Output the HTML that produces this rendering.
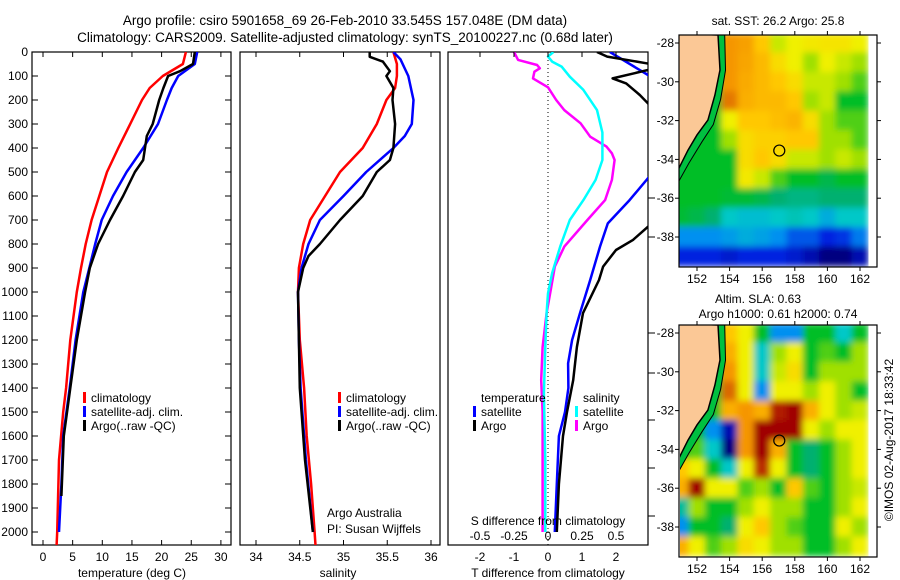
<!DOCTYPE html>
<html><head><meta charset="utf-8">
<style>
html,body{margin:0;padding:0;background:#fff;}
svg{display:block;font-family:"Liberation Sans",sans-serif;}
text{font-size:12px;fill:#000;}
</style></head>
<body>
<svg id="chart" width="900" height="580" viewBox="0 0 900 580" xmlns="http://www.w3.org/2000/svg">
<defs>
<clipPath id="c1"><rect x="32" y="52" width="199" height="493"/></clipPath>
<clipPath id="c2"><rect x="240" y="52" width="200" height="493"/></clipPath>
<clipPath id="c3"><rect x="448" y="52" width="200" height="493"/></clipPath>
<clipPath id="cm1"><rect x="679" y="35" width="198" height="232"/></clipPath>
<clipPath id="cm2"><rect x="680" y="325" width="197" height="232"/></clipPath>
<filter id="blur" x="0" y="0" width="1" height="1" filterUnits="objectBoundingBox">
<feGaussianBlur stdDeviation="3.2" edgeMode="duplicate"/>
</filter>
</defs>
<text x="345" y="25" text-anchor="middle" style="font-size:13.5px">Argo profile: csiro 5901658_69 26-Feb-2010 33.545S 157.048E (DM data)</text>
<text x="345" y="42" text-anchor="middle" style="font-size:13.5px">Climatology: CARS2009. Satellite-adjusted climatology: synTS_20100227.nc (0.68d later)</text>
<g id="g1"></g>
<g id="g2"></g>
<g id="g3"></g>
<g id="m1"></g>
<g id="m2"></g>
<text x="778" y="25" text-anchor="middle">sat. SST: 26.2  Argo: 25.8</text>
<text x="758" y="303" text-anchor="middle">Altim. SLA: 0.63</text>
<text x="778" y="318" text-anchor="middle">Argo h1000: 0.61 h2000: 0.74</text>
<text transform="translate(893,440) rotate(-90)" text-anchor="middle">©IMOS 02-Aug-2017 18:33:42</text>
</svg>
<script>
// ---- data ----
const depthTicks = [0,100,200,300,400,500,600,700,800,900,1000,1100,1200,1300,1400,1500,1600,1700,1800,1900,2000];
const tempTicks = [0,5,10,15,20,25,30];
const salTicks = [34,34.5,35,35.5,36];
const tdTicks = [-2,-1,0,1,2];
const sdTicks = [-0.5,-0.25,0,0.25,0.5];
const sdTickLabels = ["-0.5","-0.25","0","0.25","0.5"];
const tempClimDepth = [0,50,100,150,200,300,400,500,600,700,800,900,1000,1200,1400,1500,1700,2000,2055];
const tempClim =      [24.1,23.6,20.2,18,16.7,14.7,12.7,10.8,9.5,8.2,7.2,6.4,5.7,4.6,3.9,3.4,2.7,2.4,2.3];
const tempSatDepth = [0,50,100,150,200,300,400,500,600,700,800,900,1000,1200,1400,1600,1800,2000];
const tempSat =      [26.0,25.6,22.8,21.7,20.9,19.4,16.9,14.1,11.8,9.9,8.8,7.8,6.8,5.5,4.5,3.4,3.1,2.7];
const tempArgoDepth = [0,50,80,100,150,200,300,350,400,450,500,600,700,800,900,1000,1200,1400,1600,1850];
const tempArgo =      [25.6,25.3,23.1,21.1,20.3,19.6,18.5,17.5,17.2,16.9,15.5,13.5,11.3,9.3,7.9,7.1,5.7,4.6,3.5,3.1];
const salClimDepth = [0,50,100,150,200,300,400,500,600,700,800,900,1000,1200,1400,1600,1800,2000,2055];
const salClim =      [35.57,35.61,35.61,35.59,35.49,35.38,35.22,34.96,34.79,34.62,34.54,34.49,34.48,34.5,34.55,34.58,34.63,34.67,34.68];
const salSatDepth = [0,30,100,200,300,350,400,500,600,700,800,900,1000,1200,1400,1700,2000];
const salSat =      [35.57,35.65,35.74,35.8,35.78,35.7,35.57,35.26,35.0,34.73,34.6,34.52,34.48,34.49,34.51,34.57,34.65];
const salArgoDepth = [0,20,40,80,100,150,200,300,400,450,500,600,700,800,850,900,1000,1200,1400,1700,2000];
const salArgo =      [35.3,35.3,35.45,35.53,35.49,35.57,35.56,35.59,35.57,35.53,35.38,35.22,34.96,34.73,34.6,34.54,34.48,34.49,34.5,34.56,34.65];
const sdArgoDepth = [0,33,54,68,82,110,147,200,242,297,353,394,422,450,533,617,700,811,894,992,1088,1229,1367,1500,1700,2000];
const sdArgo =      [-0.25,-0.22,-0.08,-0.06,-0.1,-0.11,0,0.06,0.12,0.24,0.31,0.43,0.47,0.49,0.47,0.42,0.29,0.12,0.05,0.02,-0.01,-0.04,-0.05,-0.04,-0.04,-0.04];
const sdSatDepth = [0,19,40,61,103,158,242,336,394,450,533,617,700,811,922,1006,1088,1229,1422,1700,2000];
const sdSat =      [0.04,0,0.03,0.1,0.16,0.26,0.36,0.4,0.4,0.4,0.35,0.26,0.16,0.09,0.03,0,-0.01,-0.02,-0.03,-0.02,-0.02];
const tdSatDepth = [0,96,150,300,450,526,617,714,811,950,1088,1200,1297,1400,1500,1600,1800,2000];
const tdSat =      [1.82,2.94,3.6,3.8,3.4,2.94,2.4,1.76,1.53,1.24,0.94,0.71,0.59,0.6,0.5,0.32,0.26,0.2];
const tdArgoDepth = [0,19,47,60,75,110,131,179,214,300,500,700,728,783,825,894,950,1088,1229,1367,1500,1600,1800,2000];
const tdArgo =      [1.44,1.74,2.9,3.3,2.94,1.9,2.3,2.7,2.94,3.6,4.0,3.3,2.94,2.5,2.0,1.62,1.5,1.03,0.85,0.74,0.56,0.44,0.32,0.26];
const mapLonTicks = [152,154,156,158,160,162];
const mapLatTicks = [-28,-30,-32,-34,-36,-38];
const gridLon = [151,152,153,154,155,156,157,158,159,160,161,162];
const gridLat = [-28,-29,-30,-31,-32,-33,-34,-35,-36,-37,-38,-39];
const sstGrid = [
[5,5,7,9,8.8,8,6.5,7,7.2,7.3,7.3,7],
[5,5,6,9,8.7,8.3,7.5,7,6,7,6.5,6],
[5,5,5,9,8.6,8.3,8,7.5,6.5,6.5,6,5.5],
[5,5,5,9.2,8.5,8.3,8.3,8,6,6.5,5,5],
[5,5,5,7,8,8,8.2,8.4,7.5,6,5.5,5.5],
[5,5,5,6,7.5,7.8,7.8,8,8,6,6,5.5],
[5,5,5,5,7.5,8,7.5,6.5,6.5,6,6.5,6],
[5,5,5,5,7.2,6.5,5.5,5,5,4.5,5,5],
[5,5,5,4.8,4.8,4.5,4,3.8,3.8,4,4,4],
[4.8,4.5,4,3,2.8,2.8,3,3.2,3,2.5,3,3],
[2,2,2,2.2,2.5,2.3,2,1.5,1.5,1,1.2,1.8],
[1,1,1,0.8,1,1,1,0.8,0.5,0,0,0.5]];
const slaGrid = [
[5,5,5,8,7,5,2,2,5,5,3,5],
[5,5,5,8.5,7,3,6,7,5,5.5,5,6],
[5,5,5,9,7,3,6.5,7.5,5,6,6,6],
[5,5,5,9.3,7,2,7,7,6,7,6,5],
[5,5,5,8.5,9,8.5,9.8,10,8.5,7,6,6.5],
[5,5,2,0.5,9,10,10,10,7,6,7,7],
[5,5.5,3,0,9,10,8.5,5,4,5,6,7],
[8,7,5,3,7,9.7,7,5,4,5,6,7],
[8.5,10,7,7,5.5,6,5,8,5.5,5,6,6.5],
[3.5,6,5,5,6,7,6,6,5,5,6,7],
[2,5,5,4,7,8,6,5.5,5,5,7,6],
[8.5,7,5.5,6,7.5,7,6,6,5,5,6,7]];
const coastLon = [150.5,153.29,153.41,153.1,152.67,152.0,151.45,150.9,150.5];
const coastLat = [-27.5,-27.59,-29.39,-30.68,-31.97,-32.74,-33.52,-34.44,-34.44];
const shelfLon = [153.7,153.75,153.45,153.0,152.3,151.5,150.9];
const shelfLat = [-27.59,-29.4,-30.9,-32.2,-33.1,-34.2,-35.1];
const argoLon = 157.048, argoLat = -33.545;

// ---- helpers ----
const NS="http://www.w3.org/2000/svg";
function mk(parent,tag,attrs,txt){const e=document.createElementNS(NS,tag);for(const k in attrs)e.setAttribute(k,attrs[k]);if(txt!==undefined)e.textContent=txt;parent.appendChild(e);return e;}
const yD = d => 52 + 0.24*d;
const xT = t => 43 + 5.93*t;
const xS = s => 256 + 87.5*(s-34);
const xTD = v => 548 + 34*v;
const xSD = v => 548 + 136*v;
function line(g,xs,ds,fx,col,w,name){
  const pts=xs.map((v,i)=>fx(v).toFixed(1)+','+yD(ds[i]).toFixed(1)).join(' ');
  const p=mk(g,'polyline',{points:pts,fill:'none',stroke:col,'stroke-width':w,'stroke-linejoin':'round'});
  
  
}
function panel(g,x0,x1,clip){
  const r=mk(g,'rect',{x:x0,y:52,width:x1-x0,height:493,fill:'none',stroke:'#000','stroke-width':1.2});
  
  
  return mk(g,'g',{'clip-path':'url(#'+clip+')'});
}
function legend(g,x,y,col,label){
  mk(g,'rect',{x:x,y:y-10,width:3,height:11,fill:col});
  const t=mk(g,'text',{x:x+8,y:y},label);
  
  
}

// ---- panel 1 ----
const g1=document.getElementById('g1');
const p1=panel(g1,32,231,'c1');
depthTicks.forEach(d=>{
  const t=mk(g1,'text',{x:28,y:yD(d)+4,'text-anchor':'end'},String(d));
  
  
  mk(g1,'line',{x1:32,x2:38,y1:yD(d),y2:yD(d),stroke:'#000'});
  mk(g1,'line',{x1:225,x2:231,y1:yD(d),y2:yD(d),stroke:'#000'});
});
tempTicks.forEach(v=>{
  mk(g1,'line',{x1:xT(v),x2:xT(v),y1:52,y2:57,stroke:'#000'});
  mk(g1,'line',{x1:xT(v),x2:xT(v),y1:540,y2:545,stroke:'#000'});
  const t=mk(g1,'text',{x:xT(v),y:561,'text-anchor':'middle'},String(v));
  
  
});
mk(g1,'text',{x:132,y:577,'text-anchor':'middle'},'temperature (deg C)');
line(p1,tempClim,tempClimDepth,xT,'#f00',2.5,'temp-climatology-line');
line(p1,tempSat,tempSatDepth,xT,'#00f',2.5,'temp-satellite-line');
line(p1,tempArgo,tempArgoDepth,xT,'#000',2.5,'temp-argo-line');
legend(g1,83,402,'#f00','climatology');
legend(g1,83,416,'#00f','satellite-adj. clim.');
legend(g1,83,430,'#000','Argo(..raw -QC)');

// ---- panel 2 ----
const g2=document.getElementById('g2');
const p2=panel(g2,240,440,'c2');
salTicks.forEach(v=>{
  mk(g2,'line',{x1:xS(v),x2:xS(v),y1:52,y2:57,stroke:'#000'});
  mk(g2,'line',{x1:xS(v),x2:xS(v),y1:540,y2:545,stroke:'#000'});
  const t=mk(g2,'text',{x:xS(v),y:561,'text-anchor':'middle'},String(v));
  
  
});
mk(g2,'text',{x:338,y:577,'text-anchor':'middle'},'salinity');
line(p2,salClim,salClimDepth,xS,'#f00',2.5,'sal-climatology-line');
line(p2,salSat,salSatDepth,xS,'#00f',2.5,'sal-satellite-line');
line(p2,salArgo,salArgoDepth,xS,'#000',2.5,'sal-argo-line');
legend(g2,338,402,'#f00','climatology');
legend(g2,338,416,'#00f','satellite-adj. clim.');
legend(g2,338,430,'#000','Argo(..raw -QC)');
mk(g2,'text',{x:327,y:517},'Argo Australia');
mk(g2,'text',{x:327,y:533},'PI: Susan Wijffels');

// ---- panel 3 ----
const g3=document.getElementById('g3');
const p3=panel(g3,448,648,'c3');
mk(p3,'line',{x1:548,x2:548,y1:52,y2:545,stroke:'#000','stroke-dasharray':'1,3'});
tdTicks.forEach(v=>{
  mk(g3,'line',{x1:xTD(v),x2:xTD(v),y1:52,y2:57,stroke:'#000'});
  const t=mk(g3,'text',{x:xTD(v),y:561,'text-anchor':'middle'},String(v));
  
  
});
sdTicks.forEach((v,i)=>{
  const t=mk(g3,'text',{x:xSD(v),y:540,'text-anchor':'middle'},sdTickLabels[i]);
  
  
});
[198,237,333,373,420,468,516].forEach(y=>mk(g3,'line',{x1:648,x2:655,y1:y,y2:y,stroke:'#000'}));
mk(g3,'text',{x:548,y:525,'text-anchor':'middle'},'S difference from climatology');
mk(g3,'text',{x:548,y:577,'text-anchor':'middle'},'T difference from climatology');
line(p3,sdArgo,sdArgoDepth,xSD,'#f0f',2.5,'sdiff-argo-line');
line(p3,sdSat,sdSatDepth,xSD,'#0ff',2.5,'sdiff-satellite-line');
line(p3,tdSat,tdSatDepth,xTD,'#00f',2.5,'tdiff-satellite-line');
line(p3,tdArgo,tdArgoDepth,xTD,'#000',2.5,'tdiff-argo-line');
mk(g3,'text',{x:481,y:402},'temperature');
legend(g3,473,416,'#00f','satellite');
legend(g3,473,430,'#000','Argo');
mk(g3,'text',{x:583,y:402},'salinity');
legend(g3,575,416,'#0ff','satellite');
legend(g3,575,430,'#f0f','Argo');

// ---- maps ----
const cstops=[[0,0,0,128],[1,0,32,224],[2,0,144,240],[3,0,200,200],[4,0,176,112],[5,0,190,40],[6,160,224,0],[7,240,240,0],[8,255,200,0],[9,245,150,0],[10,160,0,0]];
function cmap(v){
  for(let i=0;i<cstops.length-1;i++){const a=cstops[i],b=cstops[i+1];
    if(v<=b[0]){const f=(v-a[0])/(b[0]-a[0]);return 'rgb('+[1,2,3].map(k=>Math.round(a[k]+f*(b[k]-a[k]))).join(',')+')';}}
  return 'rgb(160,0,0)';
}
function drawMap(gid,clip,top,grid,name){
  const g=document.getElementById(gid);
  const mx=lon=>697+(lon-152)*16.3;
  const my=lat=>top+8+(-28-lat)*19.4;
  const cg=mk(g,'g',{'clip-path':'url(#'+clip+')'});
  const bg=mk(cg,'g',{filter:'url(#blur)'});
  grid.forEach((row,ri)=>row.forEach((v,ci)=>{
    const c=mk(bg,'rect',{x:mx(gridLon[ci]-0.5)-0.3,y:my(gridLat[ri]+0.5)-0.3,width:16.9,height:20,fill:cmap(v)});
    
    
  }));
  const sp=shelfLon.map((l,i)=>mx(l)+','+my(shelfLat[i])).join(' ');
  mk(cg,'polygon',{points:sp+' '+mx(150.5)+','+my(-35.1)+' '+mx(150.5)+','+my(-27.5),fill:'#00c040'});
  mk(cg,'polyline',{points:sp,fill:'none',stroke:'#000','stroke-width':1});
  const lp=coastLon.map((l,i)=>mx(l)+','+my(coastLat[i])).join(' ');
  const land=mk(cg,'polygon',{points:lp,fill:'#fbc896',stroke:'#000','stroke-width':1.5});
  
  
  const c=mk(cg,'circle',{cx:mx(argoLon),cy:my(argoLat),r:5.5,fill:'none',stroke:'#000','stroke-width':1.2});
  
  
  const x0=679,x1=877,y0=top,y1=top+232;
  mk(g,'rect',{x:x0,y:y0,width:x1-x0,height:y1-y0,fill:'none',stroke:'#000','stroke-width':1.2});
  mapLonTicks.forEach(l=>{
    mk(g,'line',{x1:mx(l),x2:mx(l),y1:y0-4,y2:y0,stroke:'#000'});
    mk(g,'line',{x1:mx(l),x2:mx(l),y1:y1,y2:y1+4,stroke:'#000'});
    const t=mk(g,'text',{x:mx(l),y:y1+16,'text-anchor':'middle'},String(l));
    
    
  });
  mapLatTicks.forEach(l=>{
    mk(g,'line',{x1:x0-4,x2:x0,y1:my(l),y2:my(l),stroke:'#000'});
    mk(g,'line',{x1:x1,x2:x1+4,y1:my(l),y2:my(l),stroke:'#000'});
    const t=mk(g,'text',{x:x0-5,y:my(l)+4,'text-anchor':'end'},String(l));
    
    
  });
}
drawMap('m1','cm1',35,sstGrid,'sst');
drawMap('m2','cm2',325,slaGrid,'sla');
</script>
</body></html>
